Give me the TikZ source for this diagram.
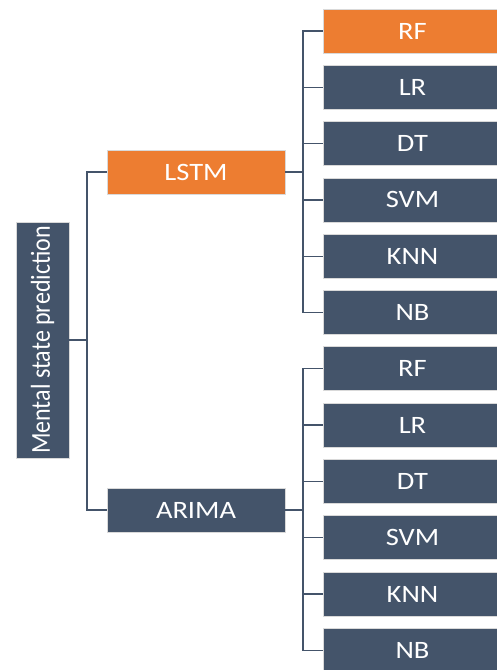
\documentclass[tikz,border=0pt]{standalone}
\usepackage{fontspec}
\setmainfont{Carlito}
\newfontfamily\boxfont[FakeStretch=1.14]{Carlito}
\definecolor{slate}{HTML}{44546A}
\definecolor{orng}{HTML}{ED7D31}
\definecolor{edgegray}{HTML}{D9D9D9}
\begin{document}
\begin{tikzpicture}[x=1pt,y=-1pt,
  box/.style={rectangle, fill=slate, draw=edgegray, line width=0.8pt, inner sep=0pt,
    text=white, font=\boxfont\fontsize{25}{30}\selectfont},
  leaf/.style={box, minimum width=179, minimum height=44},
  mid/.style={box, minimum width=178, minimum height=44},
  link/.style={draw=slate, line width=1.3pt}]
\useasboundingbox (0,0) rectangle (496,670);
\fill[white] (0,0) rectangle (496,670);
% root
\node[box, rotate=90, minimum width=236, minimum height=53,
  font=\fontsize{24}{28}\selectfont] (root) at (42.5,340)
  {\scalebox{1}[1.14]{Mental state prediction}};
% middle
\node[mid, fill=orng] (lstm) at (196,172) {LSTM};
\node[mid] (arima) at (196,510) {ARIMA};
% leaves
\node[leaf, fill=orng] (a1) at (412.5,31) {RF};
\node[leaf] (a2) at (412.5,87.3) {LR};
\node[leaf] (a3) at (412.5,143.6) {DT};
\node[leaf] (a4) at (412.5,199.9) {SVM};
\node[leaf] (a5) at (412.5,256.2) {KNN};
\node[leaf] (a6) at (412.5,312.5) {NB};
\node[leaf] (b1) at (412.5,368.8) {RF};
\node[leaf] (b2) at (412.5,425.1) {LR};
\node[leaf] (b3) at (412.5,481.4) {DT};
\node[leaf] (b4) at (412.5,537.7) {SVM};
\node[leaf] (b5) at (412.5,594) {KNN};
\node[leaf] (b6) at (412.5,650.3) {NB};
% connectors
\coordinate (j0) at (87,340);
\coordinate (j1) at (303,172);
\coordinate (j2) at (303,510);
\draw[link] (root.south) -- (j0);
\draw[link] (lstm.west) -| (j0);
\draw[link] (arima.west) -| (j0);
\draw[link] (lstm.east) -- (j1);
\draw[link] (arima.east) -- (j2);
\foreach \n in {a1,a2,a3,a4,a5,a6} \draw[link] (\n.west) -| (j1);
\foreach \n in {b1,b2,b3,b4,b5,b6} \draw[link] (\n.west) -| (j2);
\end{tikzpicture}
\end{document}
